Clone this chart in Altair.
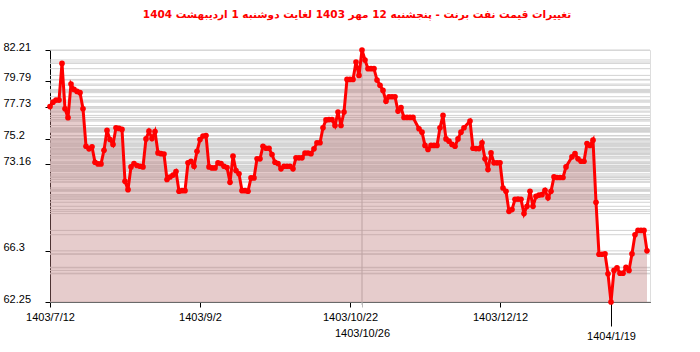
import altair as alt
import pandas as pd

# ---- data ----
days = [0, 1, 2, 3, 4, 5, 6, 7, 8, 9, 10, 11, 12, 13, 14, 15, 16, 17, 18, 19,
        20, 21, 22, 23, 24, 25, 26, 27, 28, 29, 30, 31, 32, 33, 34, 35, 36, 37, 38, 39,
        40, 41, 42, 43, 44, 45, 46, 47, 48, 49, 50, 51, 52, 53, 54, 55, 56, 57, 58, 59,
        60, 61, 62, 63, 64, 65, 66, 67, 68, 69, 70, 71, 72, 73, 74, 75, 76, 77, 78, 79,
        80, 81, 82, 83, 84, 85, 86, 87, 88, 89, 90, 91, 92, 93, 94, 95, 96, 97, 98, 99,
        100, 101, 102, 103, 104, 105, 106, 107, 108, 109, 110, 111, 112, 113, 114, 115,
        116, 117, 118, 119, 120, 121, 123, 124, 125, 126, 127, 128, 129, 130, 131, 132,
        133, 134, 135, 136, 137, 138, 140, 141, 142, 143, 144, 145, 146, 147, 148, 149,
        150, 151, 152, 153, 154, 155, 156, 157, 158, 159, 160, 161, 162, 163, 164, 165,
        166, 167, 168, 169, 170, 171, 172, 174, 175, 176, 177, 178, 179, 180, 181, 182,
        183, 184, 185, 186, 187, 188, 189, 190, 191, 192, 193, 194, 195, 196, 197, 198, 199]

prices = [77.73, 78.08, 78.24, 78.24, 81.15, 77.56, 76.85, 79.51, 79.09, 78.93,
          78.83, 77.56, 74.59, 74.38, 74.54, 73.32, 73.19, 73.19, 74.27, 75.84,
          75.12, 74.73, 76.05, 76.00, 75.92, 71.81, 71.15, 72.95, 73.22, 73.06,
          73.00, 72.95, 75.17, 75.78, 75.20, 75.75, 74.06, 74.00, 73.97, 71.95,
          72.15, 72.30, 72.58, 71.02, 71.07, 71.07, 73.27, 73.40, 73.00, 74.19,
          75.12, 75.40, 75.44, 72.95, 72.87, 72.87, 73.27, 73.22, 73.00, 72.90,
          71.73, 73.80, 72.66, 72.40, 71.07, 71.07, 71.02, 72.08, 72.08, 73.59,
          73.59, 74.59, 74.43, 74.43, 73.93, 73.32, 73.22, 72.80, 73.00, 73.00,
          73.00, 72.80, 73.67, 73.67, 73.67, 74.05, 74.05, 74.00, 74.38, 74.86,
          74.86, 76.05, 76.67, 76.70, 76.70, 76.23, 77.29, 76.23, 77.29, 79.88,
          79.88, 79.88, 81.26, 80.20, 82.21, 81.42, 80.73, 80.73, 80.73, 79.83,
          79.41, 79.01, 78.16, 78.51, 78.51, 78.51, 77.37, 77.64, 76.87, 76.87,
          76.87, 76.87, 75.97, 75.70, 74.65, 74.33, 74.65, 74.65, 74.65, 76.05,
          77.03, 75.17, 74.99, 74.73, 74.59, 75.17, 75.70, 76.05, 76.58, 74.43,
          74.40, 74.40, 74.86, 73.59, 72.74, 74.06, 73.27, 73.27, 73.27, 71.28,
          71.02, 69.43, 69.57, 70.38, 70.40, 70.38, 69.25, 69.83, 71.02, 69.83,
          70.62, 70.72, 70.75, 71.10, 70.50, 71.02, 72.16, 72.11, 72.11, 72.11,
          72.95, 73.75, 74.01, 73.59, 73.40, 73.40, 74.80, 74.65, 75.07, 70.15,
          66.03, 66.03, 66.07, 64.48, 62.25, 64.75, 64.96, 64.53, 64.53, 65.00,
          64.75, 66.07, 67.58, 67.92, 67.92, 67.92, 66.30]

y_ticks = [62.25, 66.3, 73.16, 75.2, 77.73, 79.79, 82.21]
x_tick_days = [0, 50, 100, 104, 150, 187]
x_tick_labels = ["1403/7/12", "1403/9/2", "1403/10/22", "1403/10/26", "1403/12/12", "1404/1/19"]
guide_days = [104]
day_domain = [0, 200]
title_text = "تغییرات قیمت نفت برنت - پنجشنبه  12 مهر 1403 لغایت  دوشنبه  1 اردیبهشت 1404"

W, H = 600, 252

df = pd.DataFrame({"day": days, "price": prices})
levels = pd.DataFrame({"level": sorted(set(prices))})
guides = pd.DataFrame({"day": guide_days})

label_expr = " : ".join(
    f"datum.value == {d} ? '{t}'" for d, t in zip(x_tick_days, x_tick_labels)
) + " : ''"

xscale = alt.Scale(domain=day_domain, nice=False, zero=False)
yscale = alt.Scale(domain=[min(prices), max(prices)], nice=False, zero=False)

x_axis = alt.Axis(
    values=x_tick_days, labelExpr=label_expr, title=None, grid=False,
    domainColor="black",
    tickColor={"condition": {"test": "datum.value == 104", "value": "#bbbbbb"}, "value": "black"},
    tickSize={"condition": {"test": "datum.value == 187", "value": 24}, "value": 5},
    labelPadding={"condition": {"test": "datum.value == 104", "value": 20}, "value": 4},
    labelFont="Liberation Sans", labelFontSize=11, labelColor="black",
    labelOverlap=False, labelFlush=False,
)
y_axis = alt.Axis(
    values=y_ticks, labelExpr="toString(datum.value)", title=None, grid=False,
    domainColor="black", tickColor="black", tickSize=5,
    labelAlign="left", labelPadding=42, labelBaseline="alphabetic",
    labelFont="Liberation Sans", labelFontSize=11, labelColor="black",
    labelOverlap=False, labelFlush=False,
)

base = alt.Chart(df).encode(
    x=alt.X("day:Q", scale=xscale, axis=x_axis),
    y=alt.Y("price:Q", scale=yscale, axis=y_axis),
)

grid = alt.Chart(levels).mark_rule(color="#d2d2d2", strokeWidth=1).encode(
    y=alt.Y("level:Q", scale=yscale, axis=y_axis),
    x=alt.value(0), x2=alt.value(W),
)
vguide = alt.Chart(guides).mark_rule(color="#bbbbbb", strokeWidth=1).encode(
    x=alt.X("day:Q", scale=xscale, axis=x_axis),
    y=alt.value(0), y2=alt.value(H + 3),
)
area = base.mark_area(color="#c08080", opacity=0.4).encode(y2=alt.datum(min(prices)))
line = base.mark_line(color="#ff0000", strokeWidth=3)
pts = base.mark_point(filled=True, color="#ff0000", size=32, opacity=1)

chart = alt.layer(grid, vguide, area, line, pts).properties(
    width=W, height=H,
    title=alt.TitleParams(
        text=title_text, font="DejaVu Sans", fontSize=10.5, fontWeight="bold",
        color="#ff0000", anchor="middle", offset=21, dx=7,
    ),
    autosize=alt.AutoSizeParams(type="none"),
    padding={"left": 50, "top": 50, "right": 50, "bottom": 50},
).configure_view(strokeWidth=0).configure(background="white")

chart.save("out.html", embed_options={"renderer": "svg", "actions": False})
